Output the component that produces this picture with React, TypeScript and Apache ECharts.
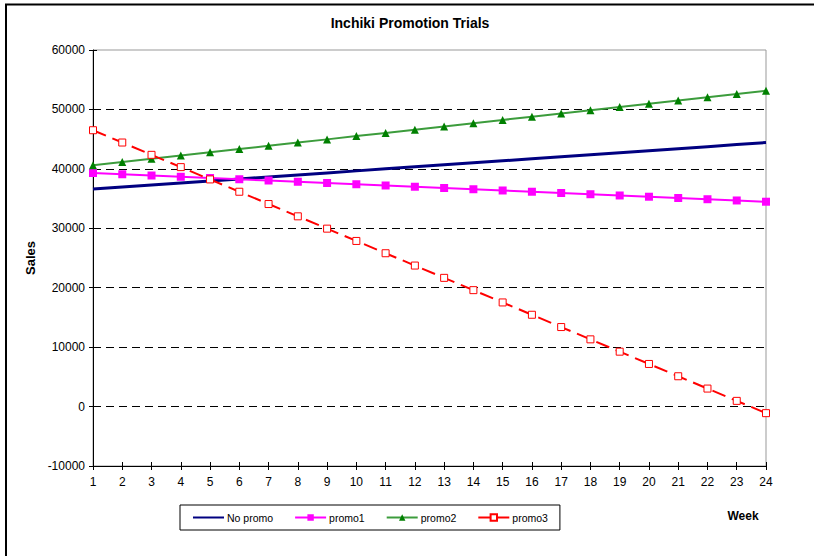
import React, { useEffect, useRef } from "react";
import * as echarts from "echarts";

const weeks = ["1","2","3","4","5","6","7","8","9","10","11","12","13","14","15","16","17","18","19","20","21","22","23","24"];
const noPromo = [36600, 36940, 37280, 37620, 37960, 38300, 38640, 38980, 39320, 39660, 40000, 40340, 40680, 41020, 41360, 41700, 42040, 42380, 42720, 43060, 43400, 43740, 44080, 44420];
const promo1 = [39300, 39090, 38880, 38670, 38460, 38250, 38040, 37830, 37620, 37410, 37200, 36990, 36780, 36570, 36360, 36150, 35940, 35730, 35520, 35310, 35100, 34890, 34680, 34470];
const promo2 = [40600, 41150, 41690, 42240, 42780, 43330, 43870, 44420, 44960, 45510, 46050, 46600, 47140, 47690, 48230, 48780, 49320, 49870, 50410, 50960, 51500, 52050, 52590, 53140];
const promo3 = [46500, 44430, 42360, 40290, 38220, 36150, 34080, 32010, 29940, 27870, 25800, 23730, 21660, 19590, 17520, 15450, 13380, 11310, 9240, 7170, 5100, 3030, 960, -1110];

const FONT = "'Liberation Sans', Arial, sans-serif";

export default function App() {
  const ref = useRef<HTMLDivElement>(null);
  useEffect(() => {
    if (!ref.current) return;
    const chart = echarts.init(ref.current, null, { renderer: "svg" });
    chart.setOption({
      animation: false,
      backgroundColor: "#fff",
      textStyle: { fontFamily: FONT },
      title: {
        text: "Inchiki Promotion Trials",
        left: 405,
        textAlign: "center",
        top: 11,
        textStyle: { fontFamily: FONT, fontSize: 14, fontWeight: "bold", color: "#000" },
      },
      graphic: [
        {
          type: "rect",
          shape: { x: 6, y: 4.5, width: 900, height: 700 },
          style: { fill: "none", stroke: "#000", lineWidth: 2 },
          silent: true,
        },
        {
          type: "text",
          x: 743,
          y: 516,
          style: {
            text: "Week",
            fontFamily: FONT,
            fontSize: 12,
            fontWeight: "bold",
            fill: "#000",
            align: "center",
            verticalAlign: "middle",
          },
        },
      ],
      legend: {
        left: 180,
        top: 505,
        padding: [7, 12, 7, 12],
        itemGap: 21,
        itemWidth: 31,
        itemHeight: 8,
        borderColor: "#000",
        borderWidth: 1,
        backgroundColor: "#fff",
        textStyle: { fontFamily: FONT, fontSize: 10.5, color: "#000", padding: [0, 0, 0, -2] },
        data: [
          { name: "No promo", itemStyle: { opacity: 0 } },
          { name: "promo1" },
          { name: "promo2" },
          { name: "promo3", lineStyle: { type: "solid" } },
        ],
      },
      grid: {
        left: 93,
        right: 48,
        top: 50,
        bottom: 90,
        show: true,
        borderColor: "#999",
        borderWidth: 1,
        backgroundColor: "#fff",
      },
      xAxis: [
        {
          type: "category",
          data: weeks,
          boundaryGap: false,
          position: "bottom",
          axisLine: { onZero: false, lineStyle: { color: "#000", width: 1 } },
          axisTick: { show: true, interval: 0, length: 4, lineStyle: { color: "#000" } },
          axisLabel: { interval: 0, color: "#000", fontSize: 12, fontFamily: FONT, margin: 10 },
          splitLine: { show: false },
        },
        {
          type: "category",
          data: weeks,
          boundaryGap: false,
          position: "bottom",
          axisLine: { show: false, onZero: false },
          axisTick: { show: true, inside: true, interval: 0, length: 4, lineStyle: { color: "#000" } },
          axisLabel: { show: false },
          splitLine: { show: false },
        },
      ],
      yAxis: [
        {
          type: "value",
          name: "Sales",
          nameLocation: "middle",
          nameGap: 49,
          nameRotate: 90,
          nameTextStyle: { fontFamily: FONT, fontSize: 13, fontWeight: "bold", color: "#000" },
          min: -10000,
          max: 60000,
          interval: 10000,
          axisLine: { show: true, onZero: false, lineStyle: { color: "#000", width: 1 } },
          axisTick: { show: true, length: 4, lineStyle: { color: "#000" } },
          axisLabel: { color: "#000", fontSize: 12, fontFamily: FONT, margin: 8, formatter: (v: number) => String(v) },
          splitLine: {
            show: true,
            lineStyle: {
              color: ["rgba(0,0,0,0)", "#000", "#000", "#000", "#000", "#000", "#000", "rgba(0,0,0,0)"],
              type: [8, 5],
              width: 1,
            },
          },
        },
        {
          type: "value",
          min: -10000,
          max: 60000,
          interval: 10000,
          position: "left",
          axisLine: { show: false, onZero: false },
          axisTick: { show: true, inside: true, length: 4, lineStyle: { color: "#000" } },
          axisLabel: { show: false },
          splitLine: { show: false },
        },
      ],
      series: [
        {
          name: "No promo",
          type: "line",
          data: noPromo,
          showSymbol: false,
          symbol: "none",
          lineStyle: { color: "#000080", width: 3 },
          itemStyle: { color: "#000080" },
        },
        {
          name: "promo1",
          type: "line",
          data: promo1,
          symbol: "rect",
          symbolSize: 8,
          lineStyle: { color: "#FF00FF", width: 2 },
          itemStyle: { color: "#FF00FF" },
        },
        {
          name: "promo2",
          type: "line",
          data: promo2,
          symbol: "triangle",
          symbolSize: 8,
          lineStyle: { color: "#3C9C3C", width: 2 },
          itemStyle: { color: "#008000" },
        },
        {
          name: "promo3",
          type: "line",
          data: promo3,
          symbol: "rect",
          symbolSize: 7,
          lineStyle: { color: "#FF0000", width: 2, type: [14, 7] },
          itemStyle: { color: "#fff", borderColor: "#FF0000", borderWidth: 1 },
        },
      ],
    });
    return () => chart.dispose();
  }, []);
  return (
    <div
      ref={ref}
      style={{ position: "fixed", left: 0, top: 0, width: 814, height: 556 }}
    />
  );
}
